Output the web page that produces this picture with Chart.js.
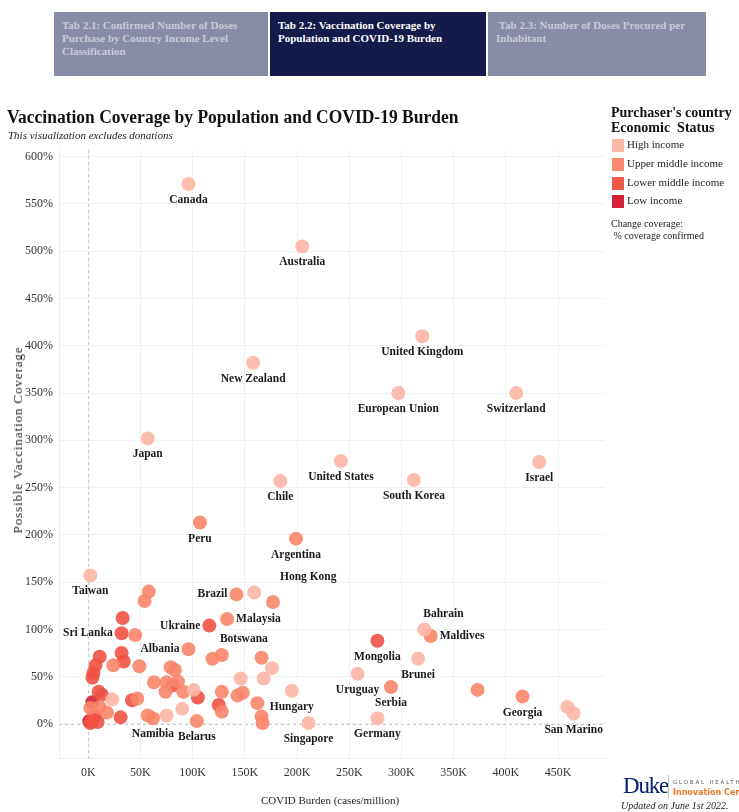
<!DOCTYPE html>
<html>
<head>
<meta charset="utf-8">
<script src="https://cdn.jsdelivr.net/npm/chart.js@4.4.1/dist/chart.umd.min.js"></script>
<style>
  body { margin: 0; background: #fff; font-family: "Liberation Serif", serif; }
  #wrap { position: relative; width: 739px; height: 812px; overflow: hidden; }
  #grafico { position: absolute; left: 0; top: 0; }
  .tab { position: absolute; top: 12px; height: 64px; box-sizing: border-box; padding: 7px 8px;
         font-weight: bold; font-size: 11px; line-height: 13px; color: #c9cbd9; background: #898ca6; }
  .tab.on { background: #141a4a; color: #fff; }
  .abs { position: absolute; white-space: nowrap; color: #222; }
  .sw { position: absolute; left: 612px; width: 12px; height: 13px; }
</style>
</head>
<body>
<div id="wrap">
  <canvas id="grafico" width="739" height="812"></canvas>

  <div class="tab" style="left:54px;width:214px">Tab 2.1: Confirmed Number of Doses<br>Purchase by Country Income Level<br>Classification</div>
  <div class="tab on" style="left:270px;width:216px">Tab 2.2: Vaccination Coverage by<br>Population and COVID-19 Burden</div>
  <div class="tab" style="left:488px;width:218px">&nbsp;Tab 2.3: Number of Doses Procured per<br>Inhabitant</div>

  <div class="abs" style="left:7px;top:107px;font-size:17.5px;font-weight:bold;color:#111;transform-origin:0 50%;transform:scaleY(1.08)">Vaccination Coverage by Population and COVID-19 Burden</div>
  <div class="abs" style="left:8px;top:129px;font-size:11px;font-style:italic">This visualization excludes donations</div>

  <div class="abs" style="left:611px;top:105px;font-size:14px;font-weight:bold;line-height:15px;color:#111">Purchaser's country<br>Economic&nbsp; Status</div>
  <div class="sw" style="top:139px;background:#fcb9a8"></div>
  <div class="sw" style="top:158px;background:#fb8a70"></div>
  <div class="sw" style="top:177px;background:#f0584a"></div>
  <div class="sw" style="top:195px;background:#d32238"></div>
  <div class="abs" style="left:627px;top:138px;font-size:11px">High income</div>
  <div class="abs" style="left:627px;top:157px;font-size:11px">Upper middle income</div>
  <div class="abs" style="left:627px;top:176px;font-size:11px">Lower middle income</div>
  <div class="abs" style="left:627px;top:194px;font-size:11px">Low income</div>
  <div class="abs" style="left:611px;top:218px;font-size:10px;line-height:12px">Change coverage:<br>&nbsp;% coverage confirmed</div>

  <div class="abs" style="left:18px;top:440px;font-size:13px;letter-spacing:0.9px;transform:translate(-50%,-50%) rotate(-90deg)">Possible Vaccination Coverage</div>
  <div class="abs" style="left:330px;top:800px;font-size:11px;transform:translate(-50%,-50%)">COVID Burden (cases/million)</div>

  <div class="abs" style="left:623px;top:773px;font-size:23px;color:#012169;letter-spacing:-1.2px">Duke</div>
  <div style="position:absolute;left:668px;top:775px;width:1px;height:23px;background:#bbb"></div>
  <div class="abs" style="left:673px;top:779px;font-family:'DejaVu Sans';font-size:5.5px;letter-spacing:1.8px;color:#555">GLOBAL HEALTH</div>
  <div class="abs" style="left:673px;top:788px;font-family:'DejaVu Sans';font-size:8px;font-weight:bold;color:#e87722">Innovation Center</div>
  <div class="abs" style="left:621px;top:800px;font-size:10px;font-style:italic">Updated on June 1st 2022.</div>
</div>

<script>
// tick values
const xTicks = [0, 50, 100, 150, 200, 250, 300, 350, 400, 450]   // K cases / million
const yTicks = [0, 50, 100, 150, 200, 250, 300, 350, 400, 450, 500, 550, 600]

// High income
const highNames = ['Canada', 'Australia', 'New Zealand', 'United Kingdom', 'European Union', 'Switzerland', 'Japan',
    'United States', 'Chile', 'South Korea', 'Israel', 'Taiwan', 'Hong Kong', 'Bahrain', 'Brunei', 'Uruguay',
    'Hungary', 'Singapore', 'Germany', 'San Marino', '', '', '', '', '', '', '', '']
const highBurden = [96, 205, 158, 320, 297, 410, 57, 242, 184, 312, 432, 2, 159, 322, 316, 258, 195, 211, 277, 465, 459, 176, 168, 146, 101, 90, 75, 23]
const highCoverage = [571, 505, 382, 410, 350, 350, 302, 278, 257, 258, 277, 157, 139, 100, 69, 53, 35, 1, 6, 11, 18, 59, 48, 48, 36, 16, 9, 26]

// Upper middle income
const upperNames = ['Peru', 'Argentina', 'Brazil', 'Malaysia', 'Albania', 'Botswana', 'Maldives', 'Serbia', 'Georgia',
    'Namibia', 'Belarus', '', '', '', '', '', '', '', '', '', '', '', '', '', '', '', '', '', '', '', '', '', '', '', '', '', '', '', '']
const upperBurden = [107, 199, 142, 133, 96, 128, 328, 290, 416, 62, 104, 177, 58, 54, 45, 119, 166, 373, 128, 143, 148, 162, 166, 167, 128,
    91, 86, 79, 83, 75, 74, 63, 57, 49, 47, 24, 11, 18, 2]
const upperCoverage = [213, 196, 137, 111, 79, 73, 93, 39, 29, 6, 3, 129, 140, 130, 94, 69, 70, 36, 34, 30, 33, 22, 8, 1, 13,
    34, 45, 60, 57, 44, 34, 44, 9, 61, 27, 62, 18, 12, 17]

// Lower middle income
const lowerNames = ['Ukraine', 'Mongolia', 'Sri Lanka', '', '', '', '', '', '', '', '', '', '', '', '', '', '', '', '', '', '']
const lowerBurden = [116, 277, 32, 33, 32, 34, 11, 7, 5, 4, 10, 13, 42, 31, 125, 105, 4, 9, 2, 81, 6]
const lowerCoverage = [104, 88, 96, 112, 75, 66, 71, 62, 54, 49, 34, 31, 25, 7, 20, 28, 4, 2, 1, 41, 8]

// Low income
const lowNames = ['', '']
const lowBurden = [4, 1]
const lowCoverage = [23, 3]

// label offsets (px from the point), default is centered below
const labelOffset = {
    'Hong Kong': [54, -15], 'Brazil': [-24, 0], 'Malaysia': [31, 0], 'Ukraine': [-28, 0], 'Sri Lanka': [-34, 0],
    'Albania': [-28, 0], 'Botswana': [22, -16], 'Bahrain': [19, -15], 'Maldives': [29, 0]
}

const toPoints = (xs, ys) => xs.map((x, i) => ({ x: x, y: ys[i] }))

const grupos = [
    { label: 'High income', names: highNames, data: toPoints(highBurden, highCoverage), color: 'rgba(252,180,163,0.88)' },
    { label: 'Upper middle income', names: upperNames, data: toPoints(upperBurden, upperCoverage), color: 'rgba(249,134,108,0.9)' },
    { label: 'Lower middle income', names: lowerNames, data: toPoints(lowerBurden, lowerCoverage), color: 'rgba(238,82,68,0.9)' },
    { label: 'Low income', names: lowNames, data: toPoints(lowBurden, lowCoverage), color: 'rgba(210,32,54,0.9)' }
]

const serif = "'Liberation Serif', serif"

const zeroLines = {
    id: 'zeroLines',
    beforeDatasetsDraw(chart) {
        const { ctx, chartArea, scales } = chart
        const x0 = scales.x.getPixelForValue(0)
        const y0 = scales.y.getPixelForValue(0)
        ctx.save()
        ctx.strokeStyle = '#c4c4c4'
        ctx.lineWidth = 1
        ctx.setLineDash([3, 3])
        ctx.beginPath()
        ctx.moveTo(chartArea.left, y0 + 0.5)
        ctx.lineTo(chartArea.right, y0 + 0.5)
        ctx.moveTo(x0 + 0.5, chartArea.top)
        ctx.lineTo(x0 + 0.5, chartArea.bottom)
        ctx.stroke()
        ctx.restore()
    }
}

const pointLabels = {
    id: 'pointLabels',
    afterDatasetsDraw(chart) {
        const ctx = chart.ctx
        ctx.save()
        ctx.font = "bold 11.5px " + serif
        ctx.fillStyle = '#1a1a1a'
        ctx.textAlign = 'center'
        ctx.textBaseline = 'middle'
        grupos.forEach((g, di) => {
            const meta = chart.getDatasetMeta(di)
            g.names.forEach((n, i) => {
                if (!n) return
                const p = meta.data[i]
                const off = labelOffset[n] || [0, 16]
                let x = p.x + off[0]
                // left/right labels are anchored at their edge
                if (off[1] === 0 && off[0] !== 0) {
                    const w = ctx.measureText(n).width
                    x = off[0] < 0 ? p.x - 9 - w / 2 : p.x + 9 + w / 2
                }
                ctx.fillText(n, x, p.y + off[1])
            })
        })
        ctx.restore()
    }
}

const ctx = document.getElementById('grafico')

new Chart(ctx, {
    type: 'scatter',
    data: {
        datasets: grupos.map(g => ({
            label: g.label,
            data: g.data,
            backgroundColor: g.color,
            borderWidth: 0,
            pointRadius: 7,
            pointHoverRadius: 7
        }))
    },
    options: {
        responsive: false,
        animation: false,
        events: [],
        layout: { padding: { left: 0, top: 150, right: 134, bottom: 0 } },
        plugins: { legend: { display: false }, tooltip: { enabled: false } },
        scales: {
            x: {
                type: 'linear',
                min: -28,
                max: 495,
                afterFit: s => { s.height = 54 },
                afterBuildTicks: s => { s.ticks = xTicks.map(v => ({ value: v })) },
                ticks: { callback: v => v + 'K', color: '#333', padding: 8, font: { family: serif, size: 12 } },
                grid: { color: '#f1f1f1', drawTicks: false },
                border: { color: '#eeeeee' }
            },
            y: {
                min: -36,
                max: 607,
                afterFit: s => { s.width = 59 },
                afterBuildTicks: s => { s.ticks = yTicks.map(v => ({ value: v })) },
                ticks: { callback: v => v + '%', color: '#333', padding: 6, font: { family: serif, size: 12 } },
                grid: { color: '#f1f1f1', drawTicks: false },
                border: { color: '#eeeeee' }
            }
        }
    },
    plugins: [zeroLines, pointLabels]
});
</script>
</body>
</html>
